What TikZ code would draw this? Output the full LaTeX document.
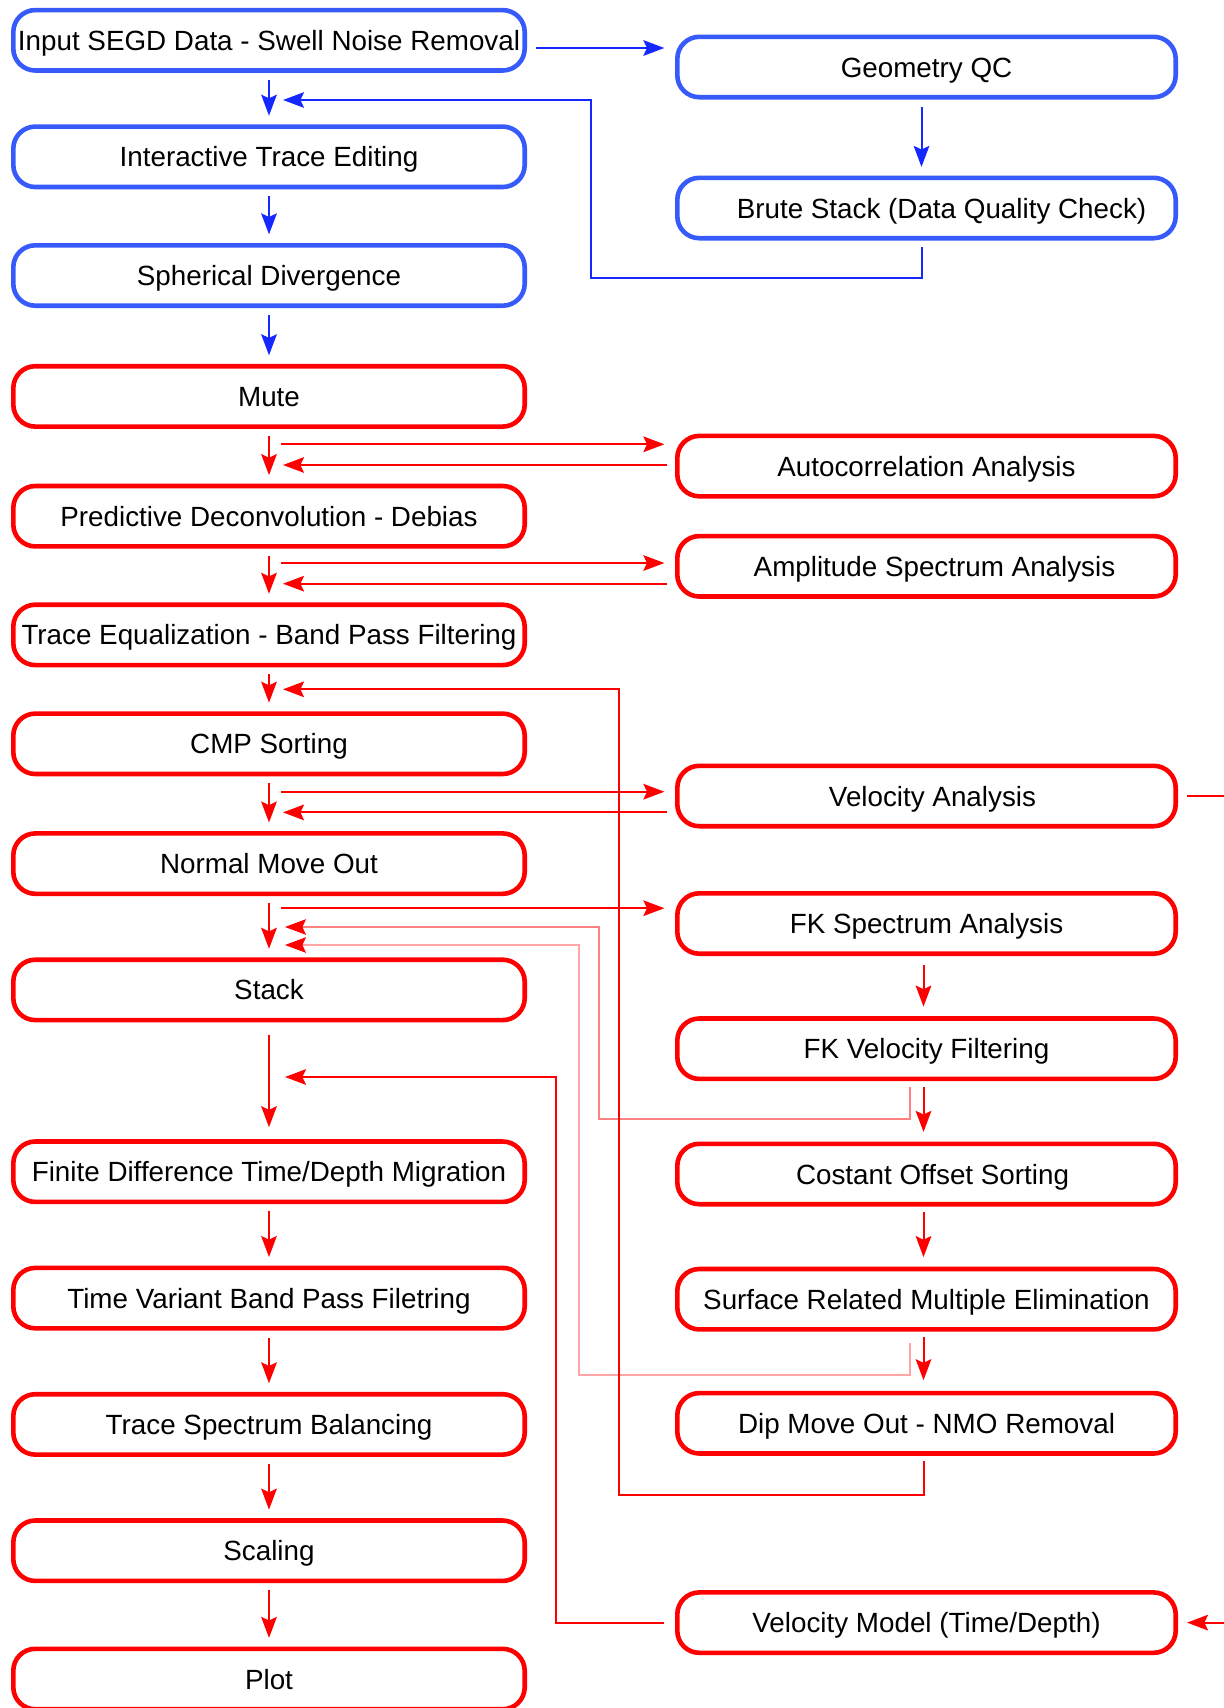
\documentclass[tikz,border=0pt]{standalone}
\usepackage{fontspec}
\setmainfont{Liberation Sans}
\usetikzlibrary{arrows.meta,calc}
\definecolor{boxblue}{RGB}{55,90,250}
\definecolor{lnblue}{RGB}{20,40,255}
\definecolor{pinkA}{RGB}{255,130,130}
\definecolor{pinkB}{RGB}{255,165,165}
\begin{document}
\begin{tikzpicture}[x=0.5pt,y=-0.5pt,
  base/.style={rounded corners=11pt, minimum height=30.2pt, line width=2.3pt, inner sep=0pt,
    font=\fontsize{13.9}{16}\selectfont, text=black, text height=13pt, text depth=3pt},
  lbox/.style={base, minimum width=255.7pt},
  rbox/.style={base, minimum width=249.2pt},
  bb/.style={draw=boxblue},
  rb/.style={draw=red},
  tip/.style={-{Stealth[length=10.5pt,width=7.8pt,inset=1.8pt]}},
  barr/.style={draw=lnblue, line width=1pt, tip},
  rarr/.style={draw=red, line width=1pt, tip},
  rline/.style={draw=red, line width=1pt},
  vgap/.style={shorten <=3.5pt, shorten >=4.3pt},
  pA/.style={draw=pinkA, line width=0.6pt, -{Stealth[length=10.5pt,width=7.8pt,inset=1.8pt,color=red]}},
  pB/.style={draw=pinkB, line width=0.6pt, -{Stealth[length=10.5pt,width=7.8pt,inset=1.8pt,color=red]}}
]
\useasboundingbox (0,0) rectangle (1224,1708);

% left column
\node[lbox,bb] (in)  at (269,40.3)  {Input SEGD Data - Swell Noise Removal};
\node[lbox,bb] (ite) at (269,156.8) {Interactive Trace Editing};
\node[lbox,bb] (sd)  at (269,275.5) {Spherical Divergence};
\node[lbox,rb] (mute) at (269,396.4) {Mute};
\node[lbox,rb] (pd)  at (269,516.2) {Predictive Deconvolution - Debias};
\node[lbox,rb] (te)  at (269,634.9) {Trace Equalization - Band Pass Filtering};
\node[lbox,rb] (cmp) at (269,743.8) {CMP Sorting};
\node[lbox,rb] (nmo) at (269,863.6) {Normal Move Out};
\node[lbox,rb] (stk) at (269,989.9) {Stack};
\node[lbox,rb] (fd)  at (269,1171.7) {Finite Difference Time/Depth Migration};
\node[lbox,rb] (tv)  at (269,1298.1) {Time Variant Band Pass Filetring};
\node[lbox,rb] (tsb) at (269,1424.4) {Trace Spectrum Balancing};
\node[lbox,rb] (sc)  at (269,1550.7) {Scaling};
\node[lbox,rb] (plot) at (269,1679) {Plot};

% right column
\node[rbox,bb] (geo) at (926.5,67) {Geometry QC};
\node[rbox,bb] (bs)  at (926.5,208) {\hspace*{15pt}Brute Stack (Data Quality Check)};
\node[rbox,rb] (ac)  at (926.5,466.1) {Autocorrelation Analysis};
\node[rbox,rb] (asa) at (926.5,566.3) {\hspace*{8pt}Amplitude Spectrum Analysis};
\node[rbox,rb] (va)  at (926.5,796) {\hspace*{6pt}Velocity Analysis};
\node[rbox,rb] (fks) at (926.5,923.5) {FK Spectrum Analysis};
\node[rbox,rb] (fkv) at (926.5,1048.7) {FK Velocity Filtering};
\node[rbox,rb] (cos) at (926.5,1174) {\hspace*{6pt}Costant Offset Sorting};
\node[rbox,rb] (srm) at (926.5,1299.2) {Surface Related Multiple Elimination};
\node[rbox,rb] (dmo) at (926.5,1423.3) {Dip Move Out - NMO Removal};
\node[rbox,rb] (vm)  at (926.5,1622.6) {Velocity Model (Time/Depth)};

% ---------- blue connectors
\coordinate (g1) at (536,48);
\draw[barr, shorten >=5.3pt] (g1) -- (g1 -| geo.west);
\draw[barr, vgap] (in.south) -- (ite.north);
\draw[barr, vgap] (ite.south) -- (sd.north);
\draw[barr, vgap] (sd.south) -- (mute.north);
\draw[barr, vgap] ($(geo.south)+(-5,0)$) -- ($(bs.north)+(-5,0)$);
\coordinate (fbA) at (591,278);
\coordinate (fbT) at (283,100);
\draw[barr] ($(bs.south)+(-5,6.4)$) |- (fbA) |- (fbT);

% ---------- red: left column downward
\draw[rarr, vgap] (mute.south) -- (pd.north);
\draw[rarr, vgap] (pd.south) -- (te.north);
\draw[rarr, vgap] (te.south) -- (cmp.north);
\draw[rarr, vgap] (cmp.south) -- (nmo.north);
\draw[rarr, vgap] (nmo.south) -- (stk.north);
\draw[rarr, shorten <=6.5pt, shorten >=6pt] (stk.south) -- (fd.north);
\draw[rarr, vgap] (fd.south) -- (tv.north);
\draw[rarr, vgap] (tv.south) -- (tsb.north);
\draw[rarr, vgap] (tsb.south) -- (sc.north);
\draw[rarr, vgap] (sc.south) -- (plot.north);

% ---------- red: analysis loops
\coordinate (a1) at (281,444.3);
\coordinate (a2) at (283,465);
\draw[rarr, shorten >=5.3pt] (a1) -- (a1 -| ac.west);
\draw[rarr, shorten <=4.2pt] (a2 -| ac.west) -- (a2);
\coordinate (b1) at (281,563);
\coordinate (b2) at (283,583.7);
\draw[rarr, shorten >=5.3pt] (b1) -- (b1 -| asa.west);
\draw[rarr, shorten <=4.2pt] (b2 -| asa.west) -- (b2);
\coordinate (c1) at (281,791.7);
\coordinate (c2) at (283,812.4);
\draw[rarr, shorten >=5.3pt] (c1) -- (c1 -| va.west);
\draw[rarr, shorten <=4.2pt] (c2 -| va.west) -- (c2);
\coordinate (e1) at (281,908.2);
\draw[rarr, shorten >=5.3pt] (e1) -- (e1 -| fks.west);

% right column downward
\draw[rarr, shorten <=4.4pt, shorten >=4.8pt] ($(fks.south)+(-3,0)$) -- ($(fkv.north)+(-3,0)$);
\draw[rarr, shorten <=2.7pt, shorten >=4.8pt] ($(fkv.south)+(-3,0)$) -- ($(cos.north)+(-3,0)$);
\draw[rarr, shorten <=2.7pt, shorten >=4.8pt] ($(cos.south)+(-3,0)$) -- ($(srm.north)+(-3,0)$);
\draw[rarr, shorten <=2.7pt, shorten >=5.3pt] ($(srm.south)+(-3,0)$) -- ($(dmo.north)+(-3,0)$);

% light feedback lines
\coordinate (u1) at (599,1119);
\coordinate (u2) at (285,927);
\draw[pA] ($(fkv.south)+(-16.5,6)$) |- (u1) |- (u2);
\coordinate (l1) at (579,1375);
\coordinate (l2) at (285,945);
\draw[pB] ($(srm.south)+(-16.5,11)$) |- (l1) |- (l2);

% DMO feedback to CMP
\coordinate (d1) at (618.6,1495.2);
\coordinate (d2) at (283,689.3);
\draw[rarr] ($(dmo.south)+(-3,5)$) |- (d1) |- (d2);

% velocity model to migration
\coordinate (v1) at (556,1077);
\coordinate (v2) at (285,1077);
\draw[rarr, shorten <=5.3pt] (vm.west) -| (v1) -- (v2);

% off-page connections
\coordinate (vaout) at (1235,796);
\draw[rline, shorten <=4.5pt] (va.east) -- (vaout);
\coordinate (vmin) at (1235,1622.6);
\draw[rarr, shorten >=4.5pt] (vmin) -- (vm.east);
\end{tikzpicture}
\end{document}
